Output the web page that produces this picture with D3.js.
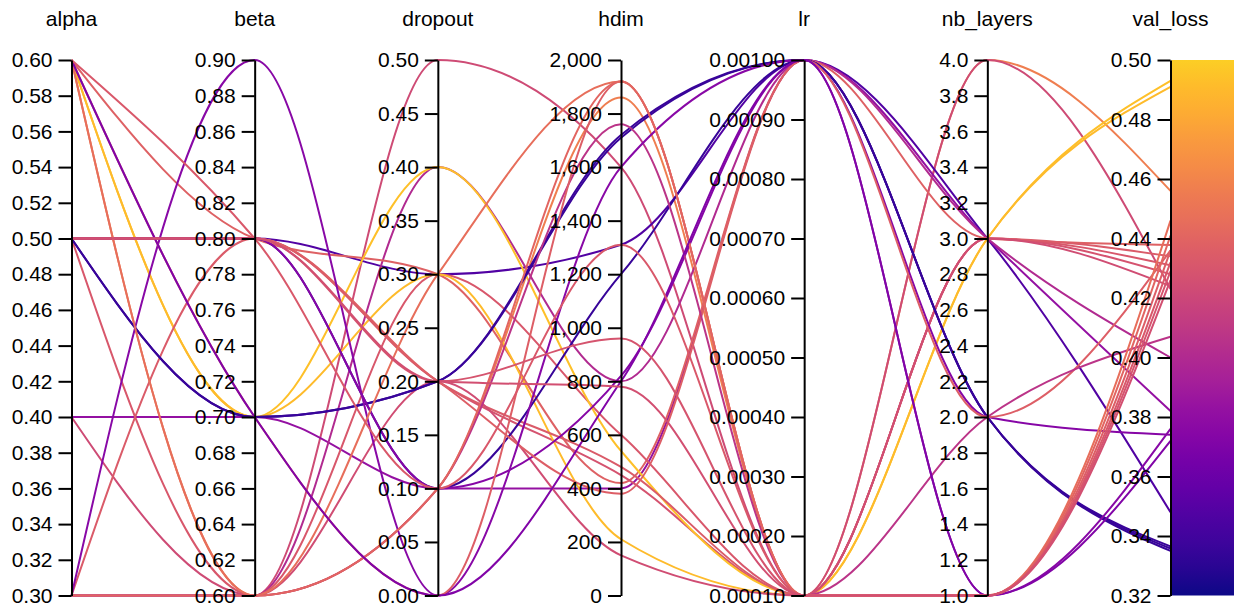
<!DOCTYPE html>
<html>
<head>
<meta charset="utf-8">
<script src="https://cdn.jsdelivr.net/npm/d3@7"></script>
<style>
  html, body { margin: 0; padding: 0; background: #fff; }
  svg { display: block; }
  .axis text { font-family: "Liberation Sans", Arial, Helvetica, sans-serif; font-size: 21px; fill: #000; }
  .axis path, .axis line { stroke: #000; stroke-width: 2; }
  .title { font-family: "Liberation Sans", Arial, Helvetica, sans-serif; font-size: 21px; fill: #000; }
</style>
</head>
<body>
<svg id="chart" width="1234" height="605"></svg>
<script>
// Hyper-parameter runs, one entry per run in each array.
const alpha     = [0.6, 0.4, 0.5, 0.4, 0.3, 0.6, 0.5, 0.5, 0.6, 0.6, 0.3, 0.3, 0.5, 0.5, 0.5, 0.5, 0.5, 0.3, 0.3, 0.6, 0.6, 0.3, 0.6, 0.6, 0.5, 0.5];
const beta      = [0.6, 0.6, 0.8, 0.7, 0.6, 0.8, 0.6, 0.8, 0.7, 0.7, 0.8, 0.6, 0.7, 0.7, 0.8, 0.8, 0.8, 0.6, 0.9, 0.7, 0.6, 0.6, 0.7, 0.8, 0.8, 0.8];
const dropout   = [0.1, 0.5, 0.3, 0.1, 0.4, 0.3, 0.3, 0.2, 0.4, 0.3, 0.2, 0.2, 0.2, 0.2, 0.1, 0.1, 0.2, 0.1, 0.0, 0.0, 0.3, 0.1, 0.0, 0.1, 0.2, 0.2];
const hdim      = [1860, 1600, 1310, 400, 800, 420, 600, 450, 540, 210, 480, 150, 1720, 1710, 1200, 820, 380, 1760, 1600, 1920, 1920, 1920, 800, 1310, 960, 780];
const lr        = [0.0001, 0.0001, 0.001, 0.001, 0.001, 0.001, 0.0001, 0.0001, 0.0001, 0.0001, 0.0001, 0.0001, 0.001, 0.001, 0.001, 0.001, 0.001, 0.0001, 0.001, 0.0001, 0.0001, 0.0001, 0.001, 0.0001, 0.0001, 0.0001];
const nbLayers  = [4, 4, 3, 3, 3, 3, 3, 3, 3, 3, 3, 3, 2, 2, 2, 2, 2, 2, 1, 1, 1, 1, 1, 1, 1, 1];
const valLoss   = [0.456, 0.423, 0.348, 0.382, 0.400, 0.4378, 0.431, 0.428, 0.493, 0.491, 0.434, 0.424, 0.3365, 0.3358, 0.335, 0.374, 0.436, 0.407, 0.376, 0.436, 0.446, 0.441, 0.372, 0.432, 0.429, 0.426];

// Axis names, ranges, tick counts and label formats.
const dimensions = ["alpha", "beta", "dropout", "hdim", "lr", "nb_layers", "val_loss"];
const columns    = [alpha, beta, dropout, hdim, lr, nbLayers, valLoss];
const domains    = [[0.3, 0.6], [0.6, 0.9], [0, 0.5], [0, 2000], [0.0001, 0.001], [1, 4], [0.32, 0.5]];
const tickCounts = [16, 16, 10, 10, 10, 16, 10];
const tickFormats = [".2f", ".2f", ".2f", ",", ".5f", ".1f", ".2f"];

const svg = d3.select("#chart");
const plotTop = 60, plotBottom = 595.5;

const x = d3.scalePoint().domain(dimensions).range([71.5, 1170.5]);
const y = {};
dimensions.forEach((d, i) => {
  y[d] = d3.scaleLinear().domain(domains[i]).range([plotBottom, plotTop]);
});

const lossExtent = domains[6];
const color = v => d3.interpolatePlasma(0.9 * (v - lossExtent[0]) / (lossExtent[1] - lossExtent[0]));

const runs = valLoss.map((_, r) => dimensions.map((d, i) => ({ dim: d, value: columns[i][r] })));

const line = d3.line()
  .x(p => x(p.dim))
  .y(p => y[p.dim](p.value))
  .curve(d3.curveMonotoneX);

// Polylines, one per run, coloured by validation loss.
svg.append("g")
  .attr("fill", "none")
  .selectAll("path")
  .data(runs)
  .join("path")
  .attr("d", line)
  .attr("stroke", (run) => color(run[6].value))
  .attr("stroke-width", 2);

// Colour bar beside the loss axis.
const defs = svg.append("defs");
const grad = defs.append("linearGradient")
  .attr("id", "plasmaBar")
  .attr("x1", 0).attr("y1", 1).attr("x2", 0).attr("y2", 0);
d3.range(0, 1.0001, 0.05).forEach(t => {
  grad.append("stop").attr("offset", t).attr("stop-color", d3.interpolatePlasma(0.9 * t));
});
svg.append("rect")
  .attr("x", x("val_loss") + 1)
  .attr("y", y.val_loss(lossExtent[1]))
  .attr("width", 64)
  .attr("height", y.val_loss(lossExtent[0]) - y.val_loss(lossExtent[1]))
  .attr("fill", "url(#plasmaBar)");

// Vertical axes with titles.
dimensions.forEach((d, i) => {
  const g = svg.append("g")
    .attr("class", "axis")
    .attr("transform", `translate(${x(d)},0)`)
    .call(d3.axisLeft(y[d])
      .ticks(tickCounts[i])
      .tickFormat(d3.format(tickFormats[i]))
      .tickSize(13)
      .tickPadding(6)
      .tickSizeOuter(0));
  g.select(".domain").attr("stroke-width", 2);

  svg.append("text")
    .attr("class", "title")
    .attr("x", x(d))
    .attr("y", 26)
    .attr("text-anchor", "middle")
    .text(d);
});
</script>
</body>
</html>
